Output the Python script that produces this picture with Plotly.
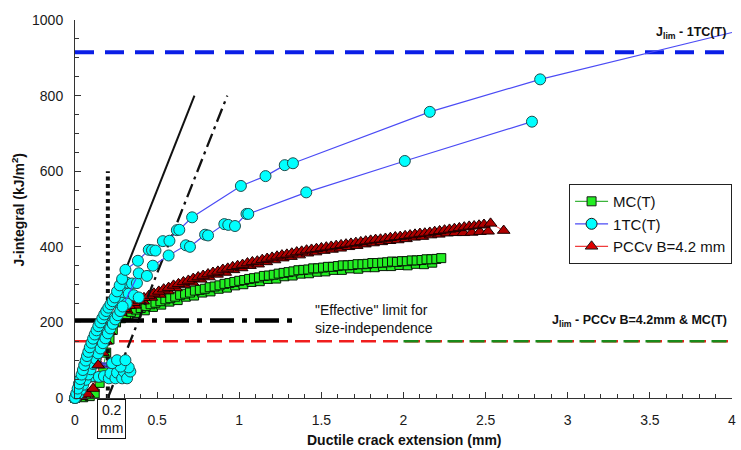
import plotly.graph_objects as go

# ---------------- data ----------------
# MC(T) specimens: crack extension (mm) / J (kJ/m2)
MC_X = [0.0, 0.05, 0.09, 0.12, 0.15, 0.17, 0.19, 0.21, 0.23, 0.25, 0.28, 0.31, 0.34, 0.37, 0.40,
        0.43, 0.46, 0.49, 0.52, 0.55, 0.58, 0.61, 0.64, 0.67, 0.70, 0.73, 0.76, 0.79, 0.82, 0.85,
        0.88, 0.91, 0.94, 0.97, 1.00, 1.03, 1.06, 1.09, 1.12, 1.15, 1.18, 1.21, 1.24, 1.27, 1.30,
        1.33, 1.36, 1.39, 1.42, 1.45, 1.48, 1.51, 1.54, 1.57, 1.60, 1.63, 1.66, 1.69, 1.72, 1.75,
        1.78, 1.81, 1.84, 1.87, 1.90, 1.93, 1.96, 1.99, 2.02, 2.05, 2.08, 2.11, 2.14, 2.17, 2.20, 2.23]
MC_J = [0, 2, 5, 12, 40, 80, 120, 155, 180, 200, 211, 221, 228, 234, 238,
        243, 248, 252, 256, 261, 264, 268, 273, 276, 279, 284, 286, 289, 293, 295,
        298, 302, 304, 307, 310, 312, 315, 317, 319, 323, 324, 326, 329, 331, 333,
        335, 338, 339, 340, 343, 343, 345, 347, 347, 349, 351, 351, 352, 354, 354,
        355, 357, 357, 358, 359, 361, 360, 362, 362, 364, 364, 365, 367, 367, 368, 370]
MC2_X = [0.325, 0.375, 0.425, 0.475, 0.525, 0.575, 0.625, 0.675, 0.725, 0.775, 0.825, 0.875,
         0.925, 0.975, 1.025, 1.075, 1.125, 1.175, 1.225, 1.275, 1.325, 1.375, 1.425, 1.475,
         1.525, 1.575, 1.625, 1.675, 1.725, 1.775, 1.825, 1.875, 1.925, 1.975, 2.025, 2.075,
         2.125, 2.175]
MC2_J = [214, 225, 232, 241, 247, 255, 259, 268, 271, 279, 282, 289,
         292, 298, 301, 307, 309, 315, 316, 322, 324, 329, 330, 334,
         335, 339, 339, 343, 342, 346, 346, 349, 349, 352, 351, 355,
         354, 358]

# PCCv B=4.2 mm specimens
PCCV_X = [0.0, 0.04, 0.08, 0.11, 0.13, 0.15, 0.17, 0.19, 0.21, 0.23, 0.25, 0.28, 0.30, 0.33, 0.36,
          0.39, 0.42, 0.45, 0.48, 0.51, 0.54, 0.57, 0.60, 0.63, 0.66, 0.69, 0.72, 0.75, 0.78, 0.81,
          0.84, 0.87, 0.90, 0.93, 0.96, 0.99, 1.02, 1.05, 1.08, 1.11, 1.14, 1.17, 1.20, 1.23, 1.26,
          1.29, 1.32, 1.35, 1.38, 1.41, 1.44, 1.47, 1.50, 1.53, 1.56, 1.59, 1.62, 1.65, 1.68, 1.71,
          1.74, 1.77, 1.80, 1.83, 1.86, 1.89, 1.92, 1.95, 1.98, 2.01, 2.04, 2.07, 2.10, 2.13, 2.16,
          2.19, 2.22, 2.25, 2.28, 2.31, 2.34, 2.37, 2.40, 2.43, 2.46, 2.49, 2.53, 2.61]
PCCV_J = [0, 3, 10, 25, 50, 87, 120, 150, 176, 198, 214, 226, 236, 244, 252,
          258, 265, 271, 277, 282, 288, 292, 298, 302, 307, 311, 316, 320, 324, 328,
          332, 335, 340, 343, 347, 350, 353, 357, 360, 362, 366, 369, 372, 375, 378,
          380, 383, 386, 388, 391, 393, 395, 397, 399, 401, 403, 405, 407, 409, 411,
          413, 415, 417, 419, 420, 422, 424, 426, 427, 429, 431, 433, 435, 436, 438,
          440, 442, 444, 446, 448, 450, 452, 454, 455, 457, 459, 462, 443]
PCCV2_X = [0.315, 0.365, 0.415, 0.465, 0.515, 0.565, 0.615, 0.665, 0.715, 0.765, 0.815, 0.865,
           0.915, 0.965, 1.015, 1.065, 1.115, 1.165, 1.215, 1.265, 1.315, 1.365, 1.415, 1.465,
           1.515, 1.565, 1.615, 1.665, 1.715, 1.765, 1.815, 1.865, 1.915, 1.965, 2.015, 2.065,
           2.115, 2.165, 2.215, 2.265, 2.315, 2.365, 2.415, 2.465, 2.515]
PCCV2_J = [232, 245, 256, 266, 274, 283, 291, 300, 306, 314, 320, 327,
           332, 339, 344, 350, 354, 360, 365, 370, 374, 378, 383, 386,
           390, 393, 396, 400, 403, 407, 410, 413, 416, 418, 421, 425,
           427, 431, 433, 436, 437, 437, 438, 440, 441]

# 1TC(T) specimen A
TCA_X = [0.0, 0.008, 0.016, 0.024, 0.032, 0.04, 0.048, 0.056, 0.065, 0.073, 0.081, 0.09, 0.1,
         0.11, 0.12, 0.131, 0.142, 0.154, 0.166, 0.178, 0.19, 0.203, 0.216, 0.229, 0.242, 0.256,
         0.272, 0.287, 0.307, 0.383, 0.449, 0.469, 0.49, 0.535, 0.575, 0.62, 0.635, 0.713,
         1.01, 1.16, 1.277, 1.327, 2.16, 2.832]
TCA_J = [0, 12, 25, 38, 50, 62, 74, 87, 99, 111, 122, 134, 146,
         157, 168, 179, 190, 200, 211, 221, 230, 239, 248, 256, 266, 282,
         298, 315, 339, 363, 392, 391, 390, 415, 416, 444, 445, 478,
         561, 587, 616, 621, 757, 843]
# power-law fit of specimen A, continued past the last point
TCA_FIT_X = [2.832, 3.0, 3.31, 3.64, 4.0]
TCA_FIT_J = [843, 861, 894, 929, 967]

# 1TC(T) specimen B
TCB_X = [0.0, 0.02, 0.035, 0.05, 0.065, 0.08, 0.095, 0.11, 0.125, 0.14, 0.155, 0.17, 0.185,
         0.2, 0.215, 0.23, 0.245, 0.26, 0.275, 0.29, 0.388, 0.438, 0.474, 0.57, 0.675, 0.70,
         0.792, 0.81, 0.909, 0.933, 0.974, 1.044, 1.055, 1.408, 2.008, 2.782]
TCB_J = [0, 10, 22, 35, 48, 62, 76, 90, 104, 118, 131, 145, 158,
         171, 184, 196, 208, 219, 230, 242, 330, 323, 350, 377, 404, 400,
         432, 430, 460, 458, 455, 487, 487, 544, 627, 731]

# 1TC(T) specimen C
TCC_X = [0.0, 0.015, 0.03, 0.045, 0.06, 0.075, 0.09, 0.105, 0.12, 0.135, 0.15, 0.165, 0.18,
         0.195, 0.21, 0.225, 0.24, 0.267, 0.287, 0.317, 0.347, 0.377, 0.297, 0.327, 0.358, 0.388,
         0.255, 0.285, 0.315]
TCC_J = [0, 10, 22, 36, 50, 64, 78, 92, 106, 120, 134, 148, 162,
         175, 188, 200, 212, 286, 308, 305, 303, 304, 277, 276, 272, 266,
         254, 252, 250]

# 1TC(T) unloading group near J = 50-100
TCD_X = [0.085, 0.105, 0.145, 0.176, 0.206, 0.216, 0.246, 0.256, 0.287, 0.297, 0.317, 0.337,
         0.327, 0.277, 0.226, 0.256, 0.307]
TCD_J = [65, 58, 56, 58, 52, 65, 52, 67, 52, 70, 52, 70,
         81, 83, 92, 100, 100]
TCD_LINE_X = [0.14, 0.23, None, 0.14, 0.23, None, 0.15, 0.24, None, 0.15, 0.22]
TCD_LINE_J = [80, 82, None, 84, 86, None, 88, 90, None, 92, 93]

for a, b in [(MC_X, MC_J), (MC2_X, MC2_J), (PCCV_X, PCCV_J), (PCCV2_X, PCCV2_J),
             (TCA_X, TCA_J), (TCB_X, TCB_J), (TCC_X, TCC_J), (TCD_X, TCD_J)]:
    assert len(a) == len(b), (len(a), len(b))

# reference levels
J_LIM_1TC = 915
J_LIM_PCCV_MC = 150
EFFECTIVE_LIMIT = 205
EFFECTIVE_END = 1.355
BLUNT_SLOPE = 1100      # J = 2*sigma_Y*da
BLUNT_TOP = 800
OFFSET = 0.2
OFFSET_TOP = 600

FONT = "Liberation Sans, Arial, sans-serif"
CYAN = "#00FFFF"
CYAN_EDGE = "#1E4E4E"
BLUE_LINE = "#4B4BF5"

fig = go.Figure()


def ref_line(x, y, color, width, dash):
    fig.add_trace(go.Scatter(x=x, y=y, mode="lines", showlegend=False, hoverinfo="skip",
                             line=dict(color=color, width=width, dash=dash)))


# horizontal limits
ref_line([0, 4], [J_LIM_1TC] * 2, "#0A1EE6", 4, "19px,11px")
ref_line([0, 4], [J_LIM_PCCV_MC] * 2, "#F01E1E", 2.6, "15px,7px")
ref_line([2, 4], [J_LIM_PCCV_MC] * 2, "#1A8A1A", 2.6, "15px,7px")

# MC(T)
mc_marker = dict(symbol="square", size=9, color="#22EE22", line=dict(color="#061806", width=1))
fig.add_trace(go.Scatter(x=MC2_X, y=MC2_J, mode="markers", marker=mc_marker,
                         showlegend=False, cliponaxis=False))
fig.add_trace(go.Scatter(x=MC_X, y=MC_J, mode="lines+markers", showlegend=False,
                         line=dict(color="#2E9E2E", width=1), marker=mc_marker, cliponaxis=False))

# PCCv
pc_marker = dict(symbol="triangle-up", size=11, color="#B00000", line=dict(color="#1A0000", width=1))
fig.add_trace(go.Scatter(x=PCCV2_X, y=PCCV2_J, mode="markers", marker=pc_marker,
                         showlegend=False, cliponaxis=False))
fig.add_trace(go.Scatter(x=PCCV_X, y=PCCV_J, mode="lines+markers", showlegend=False,
                         line=dict(color="#F03C3C", width=1), marker=pc_marker, cliponaxis=False))

# blunting line and 0.2 mm offset line
ref_line([0, BLUNT_TOP / BLUNT_SLOPE], [0, BLUNT_TOP], "#111111", 2, "solid")
ref_line([OFFSET, OFFSET + BLUNT_TOP / BLUNT_SLOPE], [0, BLUNT_TOP], "#111111", 2.3,
         "14px,5px,3px,5px")
# 0.2 mm exclusion line
ref_line([OFFSET, OFFSET], [0, OFFSET_TOP], "#111111", 4, "4px,3.5px")
# effective limit for size independence
ref_line([0, EFFECTIVE_END], [EFFECTIVE_LIMIT] * 2, "#000000", 4.5, "24px,8px,5px,8px")

# 1TC(T)
tc_marker = dict(symbol="circle", size=11, color=CYAN, line=dict(color=CYAN_EDGE, width=1))
fig.add_trace(go.Scatter(x=TCD_LINE_X, y=TCD_LINE_J, mode="lines", showlegend=False,
                         line=dict(color=BLUE_LINE, width=1.2), hoverinfo="skip"))
fig.add_trace(go.Scatter(x=TCD_X, y=TCD_J, mode="markers", marker=tc_marker,
                         showlegend=False, cliponaxis=False))
fig.add_trace(go.Scatter(x=TCC_X, y=TCC_J, mode="lines+markers", marker=tc_marker,
                         line=dict(color=BLUE_LINE, width=1.2), showlegend=False, cliponaxis=False))
fig.add_trace(go.Scatter(x=TCB_X, y=TCB_J, mode="lines+markers", marker=tc_marker,
                         line=dict(color=BLUE_LINE, width=1.2), showlegend=False, cliponaxis=False))
fig.add_trace(go.Scatter(x=TCA_FIT_X, y=TCA_FIT_J, mode="lines", showlegend=False,
                         line=dict(color=BLUE_LINE, width=1.2), hoverinfo="skip"))
fig.add_trace(go.Scatter(x=TCA_X, y=TCA_J, mode="lines+markers", showlegend=False,
                         marker=tc_marker, line=dict(color=BLUE_LINE, width=1.2), cliponaxis=False))

# a lone PCCv point sitting above the unloading strokes
fig.add_trace(go.Scatter(x=[0.141], y=[87], mode="markers", marker=pc_marker, showlegend=False))

# legend entries
for name, rank, lcol, sym, fill, size in [
        ("MC(T)", 1, "#3CB43C", "square", "#22EE22", 9),
        ("1TC(T)", 2, "#4B4BF5", "circle", CYAN, 11),
        ("PCCv B=4.2 mm", 3, "#F03C3C", "triangle-up", "#E00000", 11)]:
    fig.add_trace(go.Scatter(x=[None], y=[None], mode="lines+markers", name=name, legendrank=rank,
                             line=dict(color=lcol, width=1.2),
                             marker=dict(symbol=sym, size=size, color=fill,
                                         line=dict(color="#1A1A1A", width=1))))

axis_common = dict(showgrid=False, zeroline=False, showline=True, linecolor="#333333",
                   linewidth=1, ticks="inside", tickcolor="#333333", ticklen=6,
                   tickfont=dict(family=FONT, size=14, color="#1a1a1a"))
fig.update_xaxes(range=[0, 4], dtick=0.5, tick0=0, ticklabelstandoff=9,
                 minor=dict(ticks="inside", ticklen=4, dtick=0.1, tickcolor="#333333"),
                 **axis_common)
fig.update_yaxes(range=[0, 1000], dtick=200, tick0=0, ticklabelstandoff=8,
                 minor=dict(ticks="inside", ticklen=4, dtick=50, tickcolor="#333333"),
                 **axis_common)

annotations = [
    dict(x=0.502, y=-0.112, xref="paper", yref="paper", showarrow=False,
         text="<b>Ductile crack extension (mm)</b>", font=dict(family=FONT, size=14, color="#111"),
         xanchor="center", yanchor="middle"),
    dict(x=-0.087, y=0.498, xref="paper", yref="paper", showarrow=False, textangle=-90,
         text="<b>J-integral (kJ/m<sup>2</sup>)</b>", font=dict(family=FONT, size=14, color="#111"),
         xanchor="center", yanchor="middle"),
    dict(x=3.975, y=966, xref="x", yref="y", showarrow=False, xanchor="right", yanchor="middle",
         text="<b>J<sub>lim</sub> - 1TC(T)</b>", font=dict(family=FONT, size=12.5, color="#111")),
    dict(x=3.98, y=204, xref="x", yref="y", showarrow=False, xanchor="right", yanchor="middle",
         text="<b>J<sub>lim</sub> - PCCv B=4.2mm &amp; MC(T)</b>",
         font=dict(family=FONT, size=12.5, color="#111")),
    dict(x=1.446, y=209, xref="x", yref="y", showarrow=False, xanchor="left", yanchor="middle",
         align="left", text="\"Effective\" limit for<br>size-independence",
         font=dict(family=FONT, size=14, color="#111")),
    dict(x=0.222, y=-0.056, xref="x", yref="paper", showarrow=False, xanchor="center",
         yanchor="middle", text="0.2<br>mm", font=dict(family=FONT, size=14, color="#111"),
         bordercolor="#111111", borderwidth=1, borderpad=2, bgcolor="white"),
]

fig.update_layout(
    width=741, height=450,
    margin=dict(l=75, r=5, t=20, b=52),
    paper_bgcolor="white", plot_bgcolor="white",
    font=dict(family=FONT, size=14, color="#111"),
    annotations=annotations,
    showlegend=True,
    legend=dict(x=0.752, y=0.566, xanchor="left", yanchor="top", bgcolor="white",
                bordercolor="#222222", borderwidth=1, font=dict(family=FONT, size=15),
                tracegroupgap=0, itemwidth=33),
)

fig.write_html("out.html")
